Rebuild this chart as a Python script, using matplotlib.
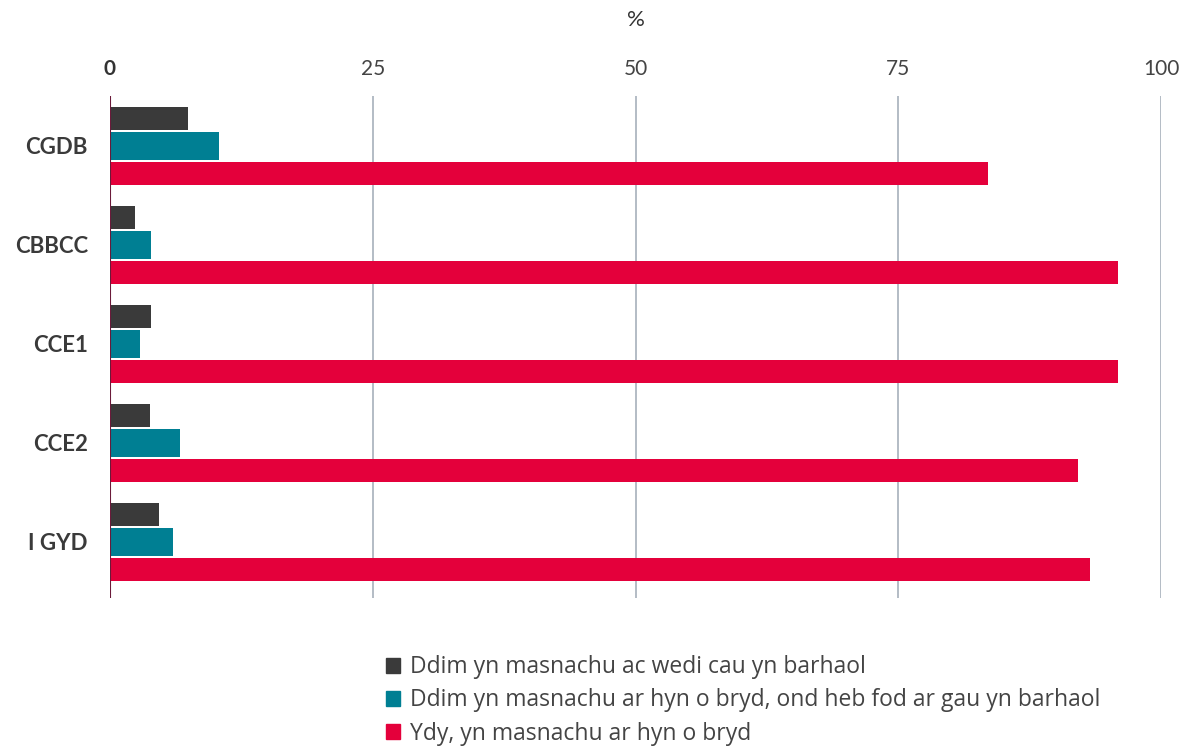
import matplotlib
matplotlib.use('Agg')
import matplotlib.pyplot as plt
from matplotlib.patches import Patch

# Data
categories = ['CGDB', 'CBBCC', 'CCE1', 'CCE2', 'I GYD']
closed_perm = [7.4, 2.4, 3.9, 3.8, 4.7]
closed_temp = [10.4, 3.9, 2.9, 6.7, 6.0]
trading = [83.5, 95.9, 95.9, 92.1, 93.2]
series_names = ['Ddim yn masnachu ac wedi cau yn barhaol',
                'Ddim yn masnachu ar hyn o bryd, ond heb fod ar gau yn barhaol',
                'Ydy, yn masnachu ar hyn o bryd']
colors = ['#3a3a3a', '#007f93', '#e4003b']
xticks = [0, 25, 50, 75, 100]

plt.rcParams['font.family'] = ['Lato', 'DejaVu Sans']

fig = plt.figure(figsize=(11.83, 7.49), dpi=100)
ax = fig.add_axes([110 / 1183, (749 - 598) / 749, 1051 / 1183, 502 / 749])

ypos = list(range(len(categories)))
ax.barh([y - 0.278 for y in ypos], closed_perm, height=0.232, color=colors[0], zorder=3)
ax.barh(ypos, closed_temp, height=0.283, color=colors[1], zorder=3)
ax.barh([y + 0.278 for y in ypos], trading, height=0.232, color=colors[2], zorder=3)

ax.set_xlim(0, 100)
ax.set_ylim(4.566, -0.505)

for v in xticks[1:]:
    ax.axvline(v, color='#a7b0bb', lw=1.2, zorder=1)
ax.axvline(0, color='#6b1a3a', lw=1.5, zorder=4)

for s in ax.spines.values():
    s.set_visible(False)

ax.xaxis.tick_top()
ax.set_xticks(xticks)
ax.set_xticklabels([str(v) for v in xticks], fontsize=15, color='#444444')
ax.get_xticklabels()[0].set_fontweight('bold')
ax.get_xticklabels()[0].set_color('#333333')
ax.tick_params(axis='x', length=0, pad=12)
ax.set_xlabel('%', fontsize=16, color='#333333', labelpad=24)
ax.xaxis.set_label_position('top')

ax.set_yticks(ypos)
ax.set_yticklabels(categories, fontsize=16, fontweight='bold', color='#3a3a3a')
ax.tick_params(axis='y', length=0, pad=16)

handles = [Patch(color=c, label=n) for c, n in zip(colors, series_names)]
fig.legend(handles=handles, loc='upper left', bbox_to_anchor=(368 / 1183, 1 - 637 / 749),
           frameon=False, prop={'family': ['Open Sans', 'DejaVu Sans'], 'size': 16.5},
           handlelength=0.6, handleheight=0.6, borderpad=0.3,
           handletextpad=0.45, labelspacing=0.4, labelcolor='#444444')

fig.savefig('out.png', dpi=100)
